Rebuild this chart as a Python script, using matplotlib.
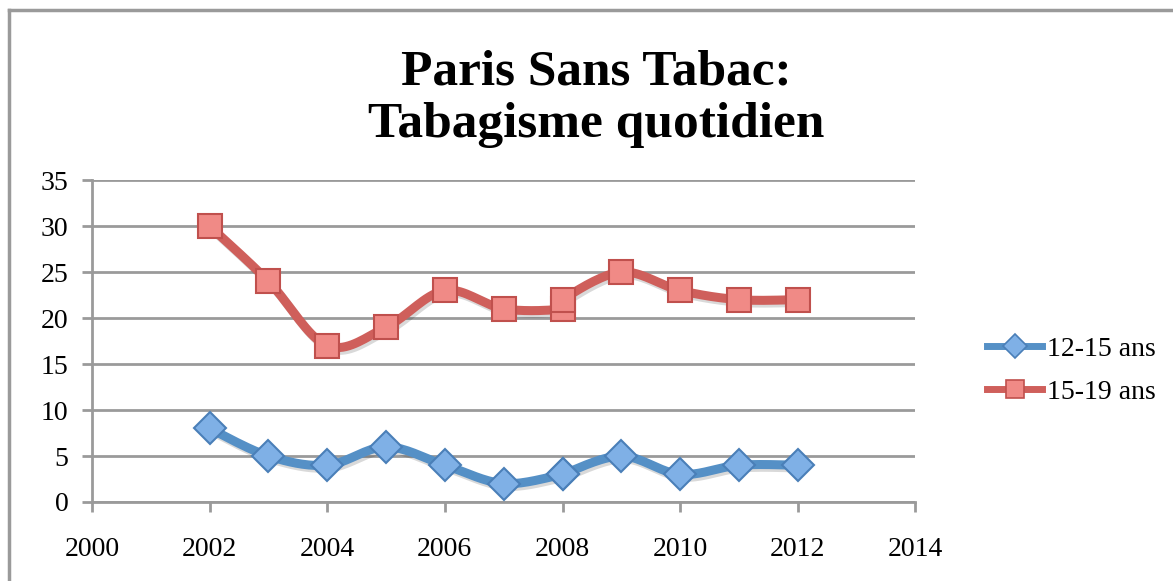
import numpy as np
import matplotlib.pyplot as plt
import matplotlib.patheffects as pe
from matplotlib.lines import Line2D

years = [2002, 2003, 2004, 2005, 2006, 2007, 2008, 2008, 2009, 2010, 2011, 2012]
ages_12_15 = [8, 5, 4, 6, 4, 2, 3, 3, 5, 3, 4, 4]
ages_15_19 = [30, 24, 17, 19, 23, 21, 21, 22, 25, 23, 22, 22]
series_labels = ["12-15 ans", "15-19 ans"]
x_ticks = [2000, 2002, 2004, 2006, 2008, 2010, 2012, 2014]
y_ticks = [0, 5, 10, 15, 20, 25, 30, 35]

plt.rcParams["font.family"] = ["Liberation Serif", "DejaVu Serif"]


def smooth(x, y, n=20):
    """Excel-style smoothed line (Catmull-Rom through the points)"""
    x = np.asarray(x, float)
    y = np.asarray(y, float)
    px = np.concatenate([[x[0]], x, [x[-1]]])
    py = np.concatenate([[y[0]], y, [y[-1]]])
    xs, ys = [], []
    t = np.linspace(0, 1, n)
    for i in range(1, len(px) - 2):
        p0, p1, p2, p3 = (np.array([px[j], py[j]]) for j in range(i - 1, i + 3))
        c1 = p1 + (p2 - p0) / 6
        c2 = p2 - (p3 - p1) / 6
        pts = ((1 - t) ** 3)[:, None] * p1 + (3 * (1 - t) ** 2 * t)[:, None] * c1 \
            + (3 * (1 - t) * t ** 2)[:, None] * c2 + (t ** 3)[:, None] * p2
        xs.extend(pts[:, 0])
        ys.extend(pts[:, 1])
    return np.array(xs), np.array(ys)


fig = plt.figure(figsize=(11.73, 5.81), dpi=100)
ax = fig.add_axes([0.0784, 0.136, 0.702, 0.554])

grid_color = "#9a9a9a"
styles = [
    dict(color="#5590c6", mfc="#7fb0e6", mec="#4a7fb8", marker="D", ms=16),
    dict(color="#cf5f5b", mfc="#f08a86", mec="#c0504d", marker="s", ms=17),
]

for vals, st in zip([ages_12_15, ages_15_19], styles):
    sx, sy = smooth(years, vals)
    ax.plot(sx, sy, color=st["color"], lw=6.5, solid_capstyle="round", zorder=3,
            path_effects=[pe.SimpleLineShadow(offset=(1.5, -2), alpha=0.15), pe.Normal()])
    ax.plot(years, vals, ls="none", marker=st["marker"], ms=st["ms"],
            mfc=st["mfc"], mec=st["mec"], mew=1.5, zorder=4)

ax.set_xlim(2000, 2014)
ax.set_ylim(0, 35)
ax.set_xticks(x_ticks)
ax.set_yticks(y_ticks)
ax.yaxis.grid(True, color=grid_color, lw=2)
ax.set_axisbelow(True)
for s in ["top", "right"]:
    ax.spines[s].set_visible(False)
for s in ["left", "bottom"]:
    ax.spines[s].set_color(grid_color)
    ax.spines[s].set_linewidth(2)
ax.tick_params(axis="both", color=grid_color, width=2, length=7, labelsize=20,
               labelcolor="black")
ax.tick_params(axis="x", pad=18)
ax.tick_params(axis="y", pad=10)

fig.text(0.508, 0.83, "Paris Sans Tabac:\nTabagisme quotidien", ha="center",
         va="center", fontsize=37, fontweight="bold", linespacing=1.17)

handles = [Line2D([], [], color=st["color"], lw=5, marker=st["marker"],
                  ms=st["ms"] * 0.75, mfc=st["mfc"], mec=st["mec"], mew=1.2)
           for st in styles]
fig.legend(handles, series_labels, loc="center left", bbox_to_anchor=(0.82, 0.362),
           frameon=False, fontsize=20, handlelength=2.0, handletextpad=0.15,
           labelspacing=0.62)

# chart frame: only top and left edges visible
fig.add_artist(Line2D([0.0077, 1.0], [0.982, 0.982], transform=fig.transFigure,
                      color=grid_color, lw=2.5))
fig.add_artist(Line2D([0.0077, 0.0077], [0.0, 0.982], transform=fig.transFigure,
                      color=grid_color, lw=2.5))

fig.savefig("out.png", dpi=100)
